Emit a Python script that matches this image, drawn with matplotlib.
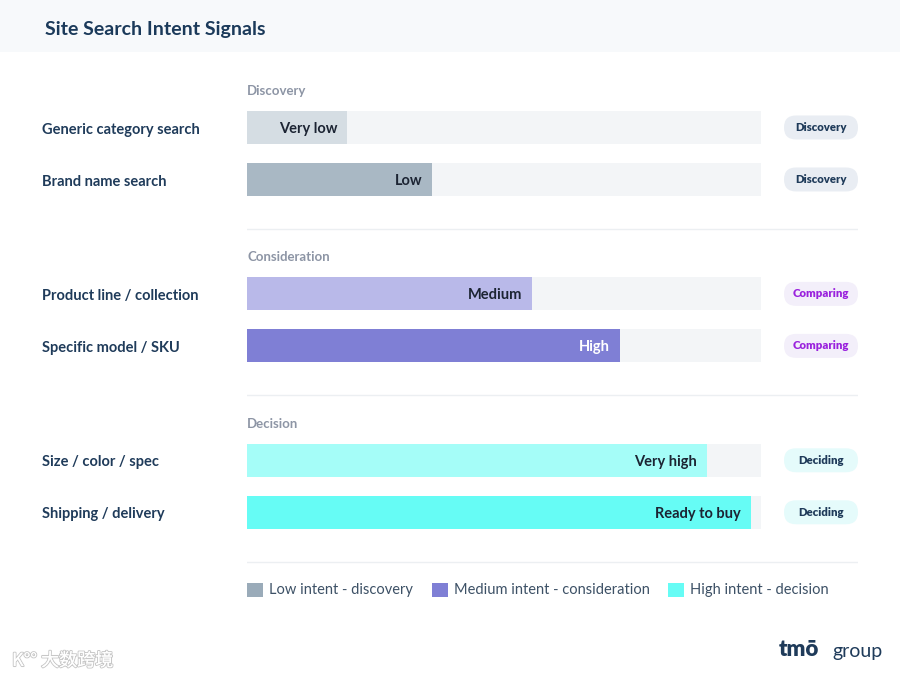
import matplotlib.pyplot as plt
import matplotlib.transforms as mtransforms
import matplotlib.patheffects as pe
from matplotlib.patches import Rectangle, FancyBboxPatch, Patch

plt.rcParams['font.family'] = ['Lato', 'DejaVu Sans', 'Noto Sans CJK SC']

# data
groups = ['Discovery', 'Consideration', 'Decision']
queries = ['Generic category search', 'Brand name search',
           'Product line / collection', 'Specific model / SKU',
           'Size / color / spec', 'Shipping / delivery']
group_of = [0, 0, 1, 1, 2, 2]
intent = [19.5, 36, 55.5, 72.5, 89.5, 98]
levels = ['Very low', 'Low', 'Medium', 'High', 'Very high', 'Ready to buy']
stages = ['Discovery', 'Discovery', 'Comparing', 'Comparing', 'Deciding', 'Deciding']
legend_labels = ['Low intent - discovery', 'Medium intent - consideration', 'High intent - decision']

bar_colors = ['#d5dde3', '#a9b8c4', '#b9b9e9', '#7f7fd5', '#a5fdf8', '#66fcf5']
level_text = ['#1c2433', '#1c2433', '#1c2433', '#ffffff', '#1c2433', '#1c2433']
stage_style = {'Discovery': ('#e9edf3', '#1f3b5a'),
               'Comparing': ('#f3effa', '#9a22dd'),
               'Deciding': ('#e5fbfb', '#1f3b5a')}
legend_colors = ['#9aabb9', '#7f7fd5', '#66fcf5']

W, H = 900, 679
fig = plt.figure(figsize=(9, 6.79), dpi=100)
fig.patch.set_facecolor('white')

# title band
fig.patches.append(Rectangle((0, 1 - 52 / H), 1, 52 / H, transform=fig.transFigure,
                             facecolor='#f7f9fb', edgecolor='none', zorder=0))
fig.text(45 / W, 1 - 30 / H, 'Site Search Intent Signals', fontsize=14, fontweight='bold',
         color='#1b3a5a', va='center', ha='left')

# bar axes: track spans 0..100, badges to the right
ax = fig.add_axes([247 / W, 1 - 570 / H, 611 / W, 490 / H])
px_x = 514 / 100.0  # px per x unit
ax.set_xlim(0, 611 / px_x)
ax.set_ylim(8.51, -0.913)
ax.axis('off')

group_step = 3.2
ypos = [group_of[i] * group_step + (i % 2) for i in range(len(queries))]

ax.barh(ypos, [100] * len(ypos), height=0.635, color='#f3f5f7', zorder=1)
ax.barh(ypos, intent, height=0.635, color=bar_colors, zorder=2)

for i, y in enumerate(ypos):
    ax.annotate(levels[i], (intent[i], y), xytext=(-7, -1), textcoords='offset points',
                ha='right', va='center', fontsize=10.5, fontweight='bold',
                color=level_text[i], zorder=3)

# row labels
tr = mtransforms.blended_transform_factory(fig.transFigure, ax.transData)
for q, y in zip(queries, ypos):
    ax.text(42 / W, y + 0.04, q, transform=tr, ha='left', va='center', fontsize=10.5,
            fontweight='bold', color='#1f3b5a', clip_on=False)

# section labels and separators
for g, name in enumerate(groups):
    ax.text(0, g * group_step - 0.70, name, ha='left', va='center', fontsize=9.5,
            fontweight='bold', color='#8d95a5')
    ax.plot([0, 611 / px_x], [g * group_step + 1.95] * 2, color='#eceff2', lw=1, zorder=0)

# stage badges
bw, bh = 74 / px_x, 24 / 52.0
bx = (821 - 247) / px_x
for st, y in zip(stages, ypos):
    bg, fg = stage_style[st]
    ax.add_patch(FancyBboxPatch((bx - bw / 2, y - bh / 2), bw, bh,
                                boxstyle='round,pad=0,rounding_size=%f' % (12 / px_x),
                                mutation_aspect=px_x / 52.0,
                                facecolor=bg, edgecolor='none', clip_on=False, zorder=2))
    ax.text(bx, y, st, ha='center', va='center', fontsize=8.2, fontweight='heavy',
            color=fg, zorder=3, clip_on=False)

# legend
handles = [Patch(facecolor=c, edgecolor='none') for c in legend_colors]
leg = fig.legend(handles, legend_labels, loc='center left',
                 bbox_to_anchor=(247 / W, 1 - 590 / H), ncol=3, frameon=False,
                 fontsize=10.5, handlelength=1.1, handleheight=1.1, handletextpad=0.4,
                 columnspacing=1.3, borderpad=0, borderaxespad=0)
for t in leg.get_texts():
    t.set_color('#3d5166')

# logo
fig.text(779 / W, 1 - 650 / H, 'tmō', fontsize=16, fontweight='heavy', color='#1f3b5a',
         va='center', ha='left')
fig.text(832 / W, 1 - 652 / H, 'group', fontsize=14, color='#1f3b5a', va='center', ha='left')

# watermark
wm = fig.text(12 / W, 1 - 661 / H, 'K°° 大数跨境', fontsize=13, color='white',
              family=['Noto Sans CJK SC', 'DejaVu Sans'], va='center', ha='left')
wm.set_path_effects([pe.withStroke(linewidth=1.5, foreground='#c8c8c8'), pe.Normal()])

fig.savefig('out.png', dpi=100, facecolor='white')
